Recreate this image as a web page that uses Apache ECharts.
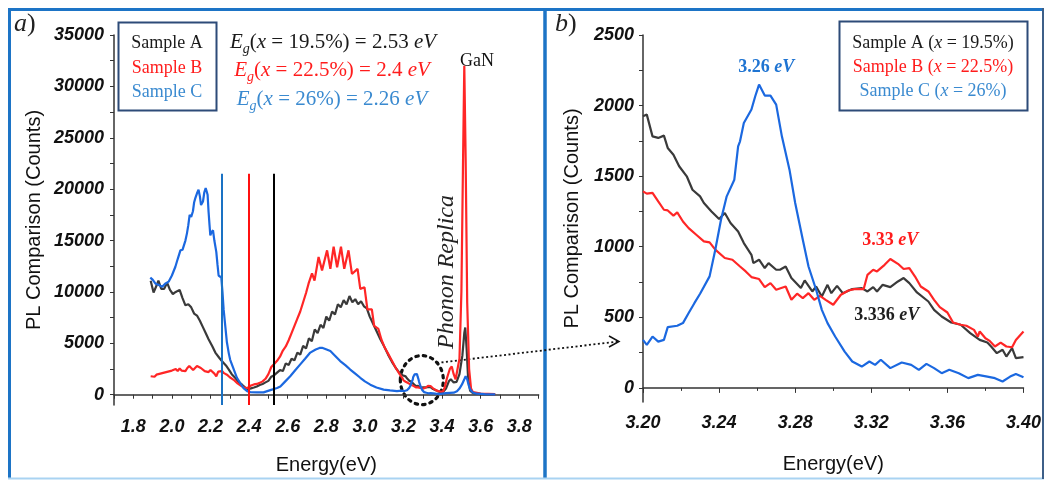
<!DOCTYPE html>
<html>
<head>
<meta charset="utf-8">
<script src="https://cdn.jsdelivr.net/npm/echarts@6/dist/echarts.min.js"></script>
<style>
html, body { margin: 0; padding: 0; background: #fff; }
#chart { width: 1044px; height: 481px; }
</style>
</head>
<body>
<div id="chart"></div>
<script>
// ---- PL spectra, [energy (eV), counts] ----
// Full-range spectra (panel a), outside the 3.20–3.40 eV window
const sampleAWide = [
  [1.890,11100],[1.905,9950],[1.920,10600],[1.930,11100],[1.945,10300],[1.960,10300],[1.975,10900],
  [1.990,10200],[2.005,9800],[2.020,10000],[2.040,10200],[2.055,9400],[2.070,8700],[2.085,8800],
  [2.100,8500],[2.115,7900],[2.130,7700],[2.145,7200],[2.160,6600],[2.175,6000],[2.190,5400],
  [2.210,4700],[2.225,4100],[2.245,3600],[2.260,3250],[2.280,2850],[2.295,2450],[2.310,2000],
  [2.330,1600],[2.345,1250],[2.365,950],[2.380,700],[2.395,500],[2.410,620],[2.425,700],[2.440,800],
  [2.455,950],[2.470,1050],[2.485,1200],[2.500,1350],[2.515,1750],[2.530,1900],[2.545,2150],
  [2.560,2400],[2.575,2300],[2.590,3050],[2.605,2900],[2.620,3500],[2.635,3350],[2.650,4100],
  [2.665,3900],[2.680,4750],[2.695,4500],[2.710,5500],[2.725,5200],[2.740,6350],[2.755,6000],
  [2.770,6800],[2.785,6500],[2.800,7600],[2.815,7200],[2.830,8100],[2.845,7800],[2.860,8800],
  [2.875,8500],[2.890,9200],[2.905,8800],[2.920,9600],[2.935,9000],[2.950,9300],[2.965,8800],
  [2.980,9100],[2.995,8600],[3.010,8400],[3.025,7600],[3.040,7000],[3.060,6200],[3.080,5400],
  [3.100,4700],[3.120,3900],[3.140,3200],[3.160,2600],[3.180,2100],[3.195,1900],
  [3.405,260],[3.420,600],[3.435,1300],[3.445,1500],[3.460,1200],[3.475,1250],[3.490,2000],
  [3.505,3800],[3.515,6000],[3.520,6540],[3.527,4500],[3.535,1500],[3.545,400],[3.560,150],
  [3.600,60],[3.675,30]
];
const sampleBWide = [
  [1.890,1800],[1.900,1850],[1.910,1750],[1.920,1950],[1.930,1900],[1.940,2050],[1.950,1950],
  [1.960,2150],[1.970,2000],[1.980,2250],[1.990,2150],[2.000,2350],[2.010,2200],[2.020,2500],
  [2.030,2300],[2.040,2550],[2.050,2350],[2.060,2450],[2.070,2300],[2.080,2600],[2.090,2800],
  [2.100,2600],[2.110,2400],[2.120,2500],[2.130,2800],[2.140,2900],[2.150,2600],[2.160,2450],
  [2.170,2300],[2.180,2300],[2.190,2200],[2.200,2400],[2.210,2300],[2.220,2050],[2.230,1800],
  [2.240,2250],[2.250,2100],[2.260,2300],[2.270,2100],[2.285,1950],[2.300,1700],[2.320,1450],
  [2.340,1100],[2.360,850],[2.375,700],[2.390,650],[2.400,700],[2.410,900],[2.425,1000],
  [2.440,1050],[2.455,1150],[2.470,1300],[2.485,1550],[2.500,2000],[2.515,2700],[2.530,3000],
  [2.545,3300],[2.560,3700],[2.575,4300],[2.590,4700],[2.605,5300],[2.620,6000],[2.635,6700],
  [2.650,7400],[2.665,8100],[2.680,9000],[2.695,9900],[2.708,10800],[2.726,11800],[2.739,11100],
  [2.760,13400],[2.778,12100],[2.804,14050],[2.821,12250],[2.838,14400],[2.856,12400],
  [2.876,14400],[2.893,12250],[2.915,14050],[2.933,11750],[2.962,12250],[2.976,10300],
  [2.998,10450],[3.013,8300],[3.036,8300],[3.048,6700],[3.070,6400],[3.085,5400],[3.100,4700],
  [3.120,4000],[3.140,3300],[3.160,2600],[3.180,2000],[3.195,1600],
  [3.405,300],[3.415,800],[3.425,1600],[3.440,2500],[3.450,2750],[3.460,2000],[3.470,1500],
  [3.480,1400],[3.490,3500],[3.500,10000],[3.508,22000],[3.515,32000],[3.522,23000],
  [3.530,9000],[3.540,2500],[3.550,600],[3.560,250],[3.600,100],[3.675,50]
];
const sampleCWide = [
  [1.888,11400],[1.900,11200],[1.915,10800],[1.930,10700],[1.950,10500],[1.965,10800],
  [1.983,11000],[2.000,11600],[2.018,12450],[2.030,13200],[2.044,14050],[2.055,14100],
  [2.061,14200],[2.070,15000],[2.078,15700],[2.085,16500],[2.092,17500],[2.100,17300],
  [2.109,17850],[2.115,18700],[2.121,19100],[2.130,19600],[2.138,19950],[2.145,19300],
  [2.151,18450],[2.157,18500],[2.161,18800],[2.168,19700],[2.175,20100],[2.180,19800],
  [2.185,19450],[2.190,17800],[2.195,16500],[2.199,15500],[2.205,15800],[2.213,16000],
  [2.220,15000],[2.230,13900],[2.236,12700],[2.242,11600],[2.250,11500],[2.256,11400],
  [2.262,10000],[2.268,8300],[2.277,6600],[2.285,5100],[2.295,4000],[2.302,3400],[2.320,2500],
  [2.337,1650],[2.355,1100],[2.371,650],[2.390,350],[2.406,250],[2.440,230],[2.475,230],
  [2.510,450],[2.545,650],[2.562,800],[2.585,1250],[2.613,1800],[2.640,2400],[2.665,2950],
  [2.690,3500],[2.717,4100],[2.745,4400],[2.765,4550],[2.778,4570],[2.795,4450],[2.821,4250],
  [2.845,3800],[2.872,3270],[2.900,2850],[2.924,2450],[2.950,2050],[2.976,1650],[3.000,1300],
  [3.028,980],[3.060,700],[3.097,500],[3.130,420],[3.166,350],[3.190,400],
  [3.420,150],[3.460,200],[3.477,330],[3.490,600],[3.503,1000],[3.515,1500],[3.522,1800],
  [3.530,1500],[3.538,900],[3.546,500],[3.560,200],[3.580,100],[3.620,60],[3.675,30]
];

// Detailed spectra in the 3.20–3.40 eV window (panel b)
const sampleAZoom = [
  [3.200,1924],[3.202,1936],[3.205,1782],[3.208,1771],[3.211,1787],[3.213,1700],[3.216,1652],
  [3.219,1570],[3.223,1499],[3.226,1404],[3.230,1357],[3.232,1310],[3.236,1250],[3.240,1196],
  [3.243,1239],[3.246,1168],[3.250,1108],[3.253,1026],[3.257,943],[3.258,884],[3.261,908],
  [3.264,849],[3.266,884],[3.270,837],[3.272,837],[3.275,860],[3.278,778],[3.283,707],
  [3.285,761],[3.289,683],[3.291,718],[3.294,647],[3.297,730],[3.299,671],[3.302,723],
  [3.305,671],[3.310,700],[3.315,707],[3.318,683],[3.321,714],[3.323,683],[3.326,730],
  [3.330,714],[3.334,754],[3.337,778],[3.340,742],[3.344,676],[3.350,612],[3.353,553],
  [3.357,506],[3.362,463],[3.367,447],[3.372,388],[3.377,340],[3.381,321],[3.383,293],
  [3.386,246],[3.389,270],[3.391,222],[3.394,281],[3.396,211],[3.400,218]
];
const sampleBZoom = [
  [3.200,1392],[3.202,1376],[3.205,1381],[3.208,1321],[3.211,1262],[3.213,1257],[3.216,1220],
  [3.218,1243],[3.221,1179],[3.224,1132],[3.228,1085],[3.232,1038],[3.235,1031],[3.238,979],
  [3.243,920],[3.247,908],[3.251,860],[3.254,825],[3.257,785],[3.261,771],[3.264,714],
  [3.267,742],[3.270,695],[3.275,718],[3.278,624],[3.281,667],[3.284,636],[3.287,671],
  [3.290,624],[3.293,652],[3.296,624],[3.300,589],[3.304,660],[3.308,690],[3.311,700],
  [3.316,700],[3.318,801],[3.321,837],[3.323,825],[3.327,872],[3.330,913],[3.334,879],
  [3.337,842],[3.340,849],[3.343,789],[3.346,718],[3.350,683],[3.353,624],[3.356,572],
  [3.360,534],[3.363,463],[3.367,447],[3.370,440],[3.374,411],[3.376,364],[3.377,400],
  [3.380,352],[3.382,335],[3.385,293],[3.388,321],[3.391,293],[3.394,288],[3.396,340],
  [3.400,400]
];
const sampleCZoom = [
  [3.200,340],[3.202,305],[3.205,364],[3.208,328],[3.211,340],[3.213,430],[3.218,440],
  [3.221,459],[3.224,530],[3.227,600],[3.230,667],[3.231,676],[3.235,790],[3.238,979],
  [3.241,1191],[3.244,1357],[3.248,1475],[3.250,1711],[3.251,1747],[3.253,1877],[3.257,1972],
  [3.259,2066],[3.261,2149],[3.264,2071],[3.267,2071],[3.270,2007],[3.273,1782],[3.277,1546],
  [3.280,1310],[3.284,1050],[3.287,860],[3.291,695],[3.294,553],[3.297,459],[3.301,364],
  [3.306,257],[3.310,187],[3.315,151],[3.319,187],[3.322,163],[3.325,199],[3.330,140],
  [3.336,180],[3.341,163],[3.345,128],[3.349,170],[3.353,140],[3.357,104],[3.361,128],
  [3.366,104],[3.371,69],[3.376,92],[3.381,80],[3.385,69],[3.389,45],[3.393,80],[3.396,99],
  [3.400,76]
];

// Band-gap energies (eV): Sample A, B, C
const gapEnergy = [2.53, 2.4, 2.26];
const gapLineTop = 21500;
// Peak energies labelled in panel b
const peakC = 3.26, peakB = 3.33, peakA = 3.336;

// Axis tick values
const energyLabelsA = [1.8, 2.0, 2.2, 2.4, 2.6, 2.8, 3.0, 3.2, 3.4, 3.6, 3.8];
const energyTicksA = [1.7,1.8,1.9,2.0,2.1,2.2,2.3,2.4,2.5,2.6,2.7,2.8,2.9,3.0,3.1,3.2,3.3,3.4,3.5,3.6,3.7,3.8,3.9];
const countLabelsA = [0, 5000, 10000, 15000, 20000, 25000, 30000, 35000];
const countTicksA = [0,2500,5000,7500,10000,12500,15000,17500,20000,22500,25000,27500,30000,32500,35000];
const countLabelsB = [0, 500, 1000, 1500, 2000, 2500];
const countTicksB = [0,250,500,750,1000,1250,1500,1750,2000,2250,2500];

const COL_A = '#3a3a3a', COL_B = '#ff2626', COL_C = '#1b68e0';
const TXT_A = '#1a1a1a', TXT_B = '#ff1c1c', TXT_C = '#3a8ad0';

// full panel-a spectrum = wide part + detailed window
function fullSpectrum(wide, zoom) {
  return wide.filter(p => p[0] < 3.2).concat(zoom, wide.filter(p => p[0] > 3.4));
}

const tickFont = { fontFamily: 'Liberation Sans', fontWeight: 'bold', fontStyle: 'italic', fontSize: 18, color: '#111' };
const nameFont = { fontFamily: 'Liberation Sans', fontSize: 20, color: '#111' };
const axisLine = { show: true, lineStyle: { color: '#333', width: 1.5 } };
const plainNumber = v => String(Math.round(v));

function gapLine(e, color) {
  return {
    silent: true, symbol: 'none', label: { show: false },
    lineStyle: { type: 'solid', width: 2, color: color },
    data: [[{ coord: [e, -1000] }, { coord: [e, gapLineTop] }]]
  };
}

function lineSeries(name, data, color, ax, extra) {
  return Object.assign({
    name: name, type: 'line', data: data, showSymbol: false, symbol: 'none',
    xAxisIndex: ax, yAxisIndex: ax,
    lineStyle: { color: color, width: 2.2 }, itemStyle: { color: color }
  }, extra || {});
}

const chart = echarts.init(document.getElementById('chart'), null, { renderer: 'canvas' });

const option = {
  animation: false,
  backgroundColor: '#fff',
  grid: [
    { left: 114, top: 35, width: 424.6, height: 370 },
    { left: 643, top: 35, width: 384, height: 367 }
  ],
  xAxis: [
    {
      gridIndex: 0, type: 'value', min: 1.7, max: 3.9,
      name: 'Energy(eV)', nameLocation: 'middle', nameGap: 50, nameTextStyle: nameFont,
      axisLine: axisLine, splitLine: { show: false },
      axisTick: { show: true, length: 4, customValues: energyTicksA, lineStyle: { color: '#333' } },
      axisLabel: Object.assign({ margin: 13, customValues: energyLabelsA, formatter: v => v.toFixed(1) }, tickFont)
    },
    {
      gridIndex: 1, type: 'value', min: 3.2, max: 3.4, interval: 0.04,
      name: 'Energy(eV)', nameLocation: 'middle', nameGap: 52, nameTextStyle: nameFont,
      axisLine: axisLine, splitLine: { show: false },
      axisTick: { show: true, length: 5, lineStyle: { color: '#333' } },
      minorTick: { show: true, splitNumber: 2, length: 3, lineStyle: { color: '#333' } },
      axisLabel: Object.assign({ margin: 12, formatter: v => v.toFixed(2) }, tickFont)
    }
  ],
  yAxis: [
    {
      gridIndex: 0, type: 'value', min: -1000, max: 35000,
      name: 'PL Comparison (Counts)', nameLocation: 'middle', nameGap: 70, nameTextStyle: nameFont,
      axisLine: axisLine, splitLine: { show: false },
      axisTick: { show: true, length: 4, customValues: countTicksA, lineStyle: { color: '#333' } },
      axisLabel: Object.assign({ margin: 10, customValues: countLabelsA, formatter: plainNumber }, tickFont)
    },
    {
      gridIndex: 1, type: 'value', min: -100, max: 2500,
      name: 'PL Comparison (Counts)', nameLocation: 'middle', nameGap: 61, nameTextStyle: nameFont,
      axisLine: axisLine, splitLine: { show: false },
      axisTick: { show: true, length: 4, customValues: countTicksB, lineStyle: { color: '#333' } },
      axisLabel: Object.assign({ margin: 9, customValues: countLabelsB, formatter: plainNumber }, tickFont)
    }
  ],
  series: [
    lineSeries('Sample A', fullSpectrum(sampleAWide, sampleAZoom), COL_A, 0, { markLine: gapLine(gapEnergy[0], '#000') }),
    lineSeries('Sample B', fullSpectrum(sampleBWide, sampleBZoom), COL_B, 0, { markLine: gapLine(gapEnergy[1], '#ff1010') }),
    lineSeries('Sample C', fullSpectrum(sampleCWide, sampleCZoom), COL_C, 0, { markLine: gapLine(gapEnergy[2], '#1a72c4') }),
    lineSeries('Sample A (x = 19.5%)', sampleAZoom, COL_A, 1),
    lineSeries('Sample B (x = 22.5%)', sampleBZoom, COL_B, 1),
    lineSeries('Sample C (x = 26%)', sampleCZoom, COL_C, 1)
  ]
};
chart.setOption(option);

// ---- annotations and frame ----
const SERIF = 'Liberation Serif';
function eqText(x, y, pct, ev, color) {
  return {
    type: 'text', x: x, y: y, silent: true,
    style: {
      text: '{e|E}{g|g}{n|(}{e|x}{n| = ' + pct + ') = ' + ev + ' }{e|eV}',
      textAlign: 'center', textVerticalAlign: 'middle',
      rich: {
        e: { fontFamily: SERIF, fontStyle: 'italic', fontSize: 21, fill: color, lineHeight: 26 },
        n: { fontFamily: SERIF, fontSize: 21, fill: color, lineHeight: 26 },
        g: { fontFamily: SERIF, fontStyle: 'italic', fontSize: 14, fill: color, lineHeight: 26, padding: [14, 0, 0, 0] }
      }
    }
  };
}
function legendLine(x, y, label, pct, color) {
  return {
    type: 'text', x: x, y: y, silent: true,
    style: {
      text: '{n|' + label + ' (}{i|x}{n| = ' + pct + ')}',
      textAlign: 'center', textVerticalAlign: 'middle',
      rich: {
        n: { fontFamily: SERIF, fontSize: 18, fill: color },
        i: { fontFamily: SERIF, fontSize: 18, fontStyle: 'italic', fill: color }
      }
    }
  };
}
function peakText(x, y, value, color) {
  return {
    type: 'text', x: x, y: y, silent: true,
    style: {
      text: '{n|' + value + ' }{i|eV}',
      textAlign: 'center', textVerticalAlign: 'middle',
      rich: {
        n: { fontFamily: SERIF, fontSize: 18, fontWeight: 'bold', fill: color },
        i: { fontFamily: SERIF, fontSize: 18, fontWeight: 'bold', fontStyle: 'italic', fill: color }
      }
    }
  };
}
function simpleText(x, y, text, font, color, extra) {
  return Object.assign({
    type: 'text', x: x, y: y, silent: true,
    style: { text: text, font: font, fill: color, textAlign: 'center', textVerticalAlign: 'middle' }
  }, extra || {});
}

const circ = chart.convertToPixel({ gridIndex: 0 }, [3.295, 1420]);
const pA = chart.convertToPixel({ gridIndex: 1 }, [peakA, 0]);
const pB = chart.convertToPixel({ gridIndex: 1 }, [peakB, 0]);
const pC = chart.convertToPixel({ gridIndex: 1 }, [peakC, 0]);

const frameBlue = '#1d74c6';
chart.setOption({
  graphic: [
    // outer frame and panel divider
    { type: 'line', silent: true, shape: { x1: 8, y1: 9.5, x2: 1044, y2: 9.5 }, style: { stroke: frameBlue, lineWidth: 3 } },
    { type: 'line', silent: true, shape: { x1: 9.5, y1: 8, x2: 9.5, y2: 479 }, style: { stroke: frameBlue, lineWidth: 3 } },
    { type: 'line', silent: true, shape: { x1: 545, y1: 8, x2: 545, y2: 479 }, style: { stroke: frameBlue, lineWidth: 3.5 } },
    { type: 'line', silent: true, shape: { x1: 8, y1: 478.5, x2: 1044, y2: 478.5 }, style: { stroke: '#a9d3f2', lineWidth: 2 } },
    { type: 'line', silent: true, shape: { x1: 1043, y1: 8, x2: 1043, y2: 479 }, style: { stroke: '#3d5f88', lineWidth: 2 } },

    // panel letters
    { type: 'text', x: 14, y: 37, silent: true, style: { text: '{i|a}{n|)}', textVerticalAlign: 'bottom',
      rich: { i: { fontFamily: SERIF, fontStyle: 'italic', fontSize: 26, fill: '#222' }, n: { fontFamily: SERIF, fontSize: 26, fill: '#222' } } } },
    { type: 'text', x: 555, y: 37, silent: true, style: { text: '{i|b}{n|)}', textVerticalAlign: 'bottom',
      rich: { i: { fontFamily: SERIF, fontStyle: 'italic', fontSize: 26, fill: '#222' }, n: { fontFamily: SERIF, fontSize: 26, fill: '#222' } } } },

    // panel a legend
    { type: 'rect', silent: true, shape: { x: 118.5, y: 22.5, width: 98, height: 88 }, style: { fill: '#fff', stroke: '#2d4b78', lineWidth: 2 } },
    simpleText(167, 43, 'Sample A', '18px "Liberation Serif"', TXT_A),
    simpleText(167, 68, 'Sample B', '18px "Liberation Serif"', TXT_B),
    simpleText(167, 92, 'Sample C', '18px "Liberation Serif"', TXT_C),

    // band-gap equations
    eqText(333, 42, '19.5%', '2.53', TXT_A),
    eqText(332, 70, '22.5%', '2.4', TXT_B),
    eqText(332, 99, '26%', '2.26', TXT_C),

    simpleText(477, 61, 'GaN', '18px "Liberation Serif"', '#111'),
    simpleText(447, 272, 'Phonon Replica', 'italic 24px "Liberation Serif"', '#222', { rotation: Math.PI / 2 }),

    // dotted circle around the 3.2–3.4 eV region and arrow to panel b
    { type: 'ellipse', silent: true, shape: { cx: circ[0], cy: circ[1], rx: 21.5, ry: 24.5 },
      style: { fill: 'none', stroke: '#111', lineWidth: 3.2, lineDash: [2.5, 5], lineCap: 'round' } },
    { type: 'line', silent: true, shape: { x1: 437, y1: 363, x2: 618, y2: 341.5 },
      style: { stroke: '#111', lineWidth: 1.8, lineDash: [2, 2.5] } },
    { type: 'polyline', silent: true, shape: { points: [[609, 336], [619, 341.5], [609, 347]] },
      style: { stroke: '#111', lineWidth: 1.5, fill: 'none' } },

    // panel b legend
    { type: 'rect', silent: true, shape: { x: 839.5, y: 21.5, width: 188, height: 89 }, style: { fill: '#fff', stroke: '#2d4b78', lineWidth: 2 } },
    legendLine(933, 43, 'Sample A', '19.5%', TXT_A),
    legendLine(933, 67, 'Sample B', '22.5%', TXT_B),
    legendLine(933, 91, 'Sample C', '26%', TXT_C),

    // peak labels
    peakText(pC[0] + 9, 67, '3.26', '#1f74d2'),
    peakText(pB[0] + 0, 240, '3.33', '#ff1c1c'),
    peakText(pA[0] - 15, 315, '3.336', '#1e1e1e')
  ]
});
</script>
</body>
</html>
